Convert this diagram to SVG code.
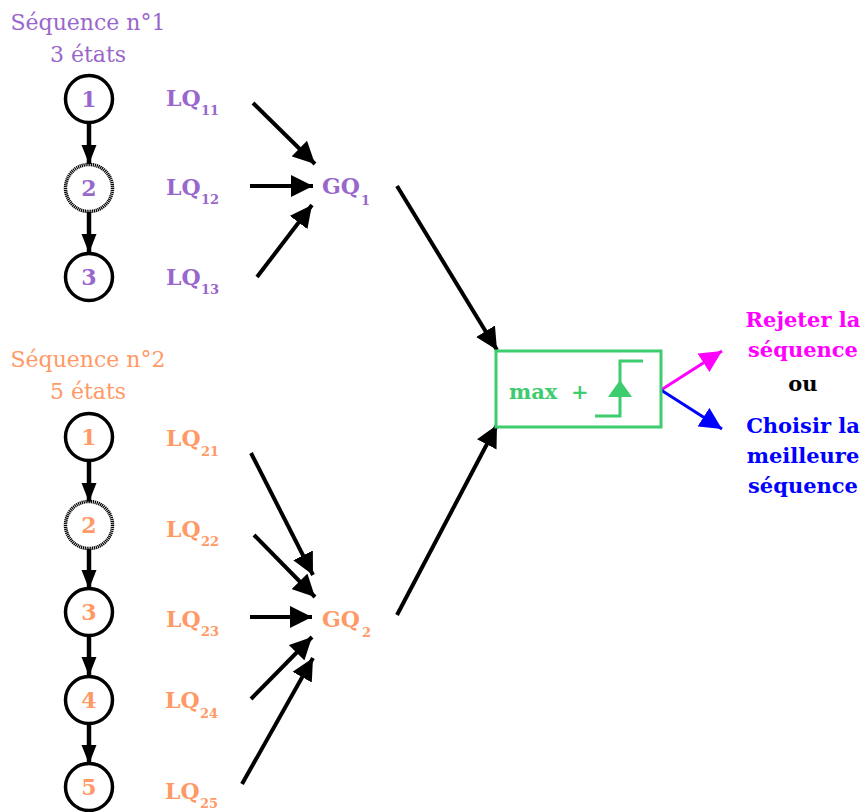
<svg xmlns="http://www.w3.org/2000/svg" width="863" height="812" viewBox="0 0 863 812">
<defs>
<style>
.t{font-family:"DejaVu Serif","Liberation Serif",serif}
.title{font-size:22px;text-anchor:middle}
.b{font-weight:bold}
.num{font-size:22px;font-weight:bold;text-anchor:middle}
.lq{font-size:22px;font-weight:bold}
.sub{font-size:13px;font-weight:bold}
.p{fill:#9966cc}
.o{fill:#ff9966}
.st{fill:#fff;stroke:#000;stroke-width:3.5}
.dash{stroke-dasharray:1.2 0.7}
.con{stroke:#000;stroke-width:4;fill:none}
.chain{stroke:#000;stroke-width:4.5;fill:none}
.out{font-size:21px;font-weight:bold;text-anchor:middle}
</style>
<marker id="ah" markerUnits="userSpaceOnUse" markerWidth="24" markerHeight="22" refX="22" refY="11" orient="auto"><path d="M0,0 L22,11 L0,22 Z" fill="#000"/></marker>
<marker id="ahs" markerUnits="userSpaceOnUse" markerWidth="20" markerHeight="16" refX="19" refY="7.5" orient="auto"><path d="M0,0 L19,7.5 L0,15 Z" fill="#000"/></marker>
<marker id="ahm" markerUnits="userSpaceOnUse" markerWidth="24" markerHeight="22" refX="22" refY="11" orient="auto"><path d="M0,0 L22,11 L0,22 Z" fill="#ff00ff"/></marker>
<marker id="ahb" markerUnits="userSpaceOnUse" markerWidth="24" markerHeight="22" refX="22" refY="11" orient="auto"><path d="M0,0 L22,11 L0,22 Z" fill="#0000ff"/></marker>
</defs>
<rect width="863" height="812" fill="#fff"/>

<g id="seq1-title" class="t title p">
<text x="88" y="30">Séquence n°1</text>
<text x="88" y="62">3 états</text>
</g>
<g id="seq2-title" class="t title o">
<text x="88" y="367">Séquence n°2</text>
<text x="88" y="399">5 états</text>
</g>

<g id="connectors">
<line class="chain" x1="89" y1="123" x2="89" y2="164" marker-end="url(#ahs)"/>
<line class="chain" x1="89" y1="212" x2="89" y2="253" marker-end="url(#ahs)"/>
<line class="chain" x1="89" y1="461" x2="89" y2="502" marker-end="url(#ahs)"/>
<line class="chain" x1="89" y1="549" x2="89" y2="589" marker-end="url(#ahs)"/>
<line class="chain" x1="89" y1="636" x2="89" y2="676" marker-end="url(#ahs)"/>
<line class="chain" x1="89" y1="724" x2="89" y2="764" marker-end="url(#ahs)"/>
<line class="con" x1="253" y1="103" x2="315" y2="164" marker-end="url(#ah)"/>
<line class="con" x1="250" y1="186" x2="313" y2="186" marker-end="url(#ah)"/>
<line class="con" x1="257" y1="277" x2="312" y2="205" marker-end="url(#ah)"/>
<line class="con" x1="251" y1="453" x2="313" y2="575" marker-end="url(#ah)"/>
<line class="con" x1="254" y1="535" x2="315" y2="597" marker-end="url(#ah)"/>
<line class="con" x1="250" y1="617" x2="312" y2="617" marker-end="url(#ah)"/>
<line class="con" x1="251" y1="699" x2="312" y2="637" marker-end="url(#ah)"/>
<line class="con" x1="242" y1="784" x2="313" y2="658" marker-end="url(#ah)"/>
<line class="con" x1="397" y1="186" x2="497" y2="350" marker-end="url(#ah)"/>
<line class="con" x1="397" y1="615" x2="497" y2="425" marker-end="url(#ah)"/>
<line x1="661" y1="390" x2="722" y2="351" stroke="#ff00ff" stroke-width="3" marker-end="url(#ahm)"/>
<line x1="661" y1="390" x2="722" y2="429" stroke="#0000ff" stroke-width="3" marker-end="url(#ahb)"/>
</g>

<g id="s1-n1"><circle class="st" cx="89" cy="99" r="23.5"/><text class="t num p" x="89" y="107">1</text></g>
<g id="s1-n2"><circle class="st dash" cx="89" cy="188" r="23.5"/><text class="t num p" x="89" y="196">2</text></g>
<g id="s1-n3"><circle class="st" cx="89" cy="277" r="23.5"/><text class="t num p" x="89" y="285">3</text></g>

<g id="s2-n1"><circle class="st" cx="89" cy="437" r="23.5"/><text class="t num o" x="89" y="445">1</text></g>
<g id="s2-n2"><circle class="st dash" cx="89" cy="525" r="23.5"/><text class="t num o" x="89" y="533">2</text></g>
<g id="s2-n3"><circle class="st" cx="89" cy="612" r="23.5"/><text class="t num o" x="89" y="620">3</text></g>
<g id="s2-n4"><circle class="st" cx="89" cy="700" r="23.5"/><text class="t num o" x="89" y="708">4</text></g>
<g id="s2-n5"><circle class="st" cx="89" cy="787" r="23.5"/><text class="t num o" x="89" y="795">5</text></g>

<g id="lq11" class="t p"><text class="lq" x="166" y="106">LQ</text><text class="sub" x="201" y="115">11</text></g>
<g id="lq12" class="t p"><text class="lq" x="166" y="195">LQ</text><text class="sub" x="201" y="204">12</text></g>
<g id="lq13" class="t p"><text class="lq" x="166" y="285">LQ</text><text class="sub" x="201" y="294">13</text></g>

<g id="lq21" class="t o"><text class="lq" x="166" y="446">LQ</text><text class="sub" x="201" y="456">21</text></g>
<g id="lq22" class="t o"><text class="lq" x="166" y="537">LQ</text><text class="sub" x="201" y="546">22</text></g>
<g id="lq23" class="t o"><text class="lq" x="166" y="627">LQ</text><text class="sub" x="201" y="636">23</text></g>
<g id="lq24" class="t o"><text class="lq" x="165" y="708">LQ</text><text class="sub" x="200" y="718">24</text></g>
<g id="lq25" class="t o"><text class="lq" x="165" y="799">LQ</text><text class="sub" x="200" y="808">25</text></g>

<g id="gq1" class="t p"><text class="lq" x="322" y="194">GQ</text><text class="sub" x="361" y="205">1</text></g>
<g id="gq2" class="t o"><text class="lq" x="322" y="627">GQ</text><text class="sub" x="362" y="637">2</text></g>

<g id="decision">
<rect x="496" y="351" width="165" height="76" fill="#fff" stroke="#3dcc6e" stroke-width="3"/>
<text class="t b" x="509" y="399" font-size="21" fill="#3dcc6e">max</text>
<text class="t b" x="571" y="399" font-size="21" fill="#3dcc6e">+</text>
<polyline points="595,416 620,416 620,361 643,361" fill="none" stroke="#3dcc6e" stroke-width="3"/>
<path d="M608,397 L620,380 L632,397 Z" fill="#3dcc6e"/>
</g>

<g id="outputs" class="t out">
<text x="803" y="327" fill="#ff00ff">Rejeter la</text>
<text x="803" y="357" fill="#ff00ff">séquence</text>
<text x="803" y="391" fill="#000">ou</text>
<text x="803" y="433" fill="#0000ff">Choisir la</text>
<text x="803" y="463" fill="#0000ff">meilleure</text>
<text x="803" y="493" fill="#0000ff">séquence</text>
</g>
</svg>
